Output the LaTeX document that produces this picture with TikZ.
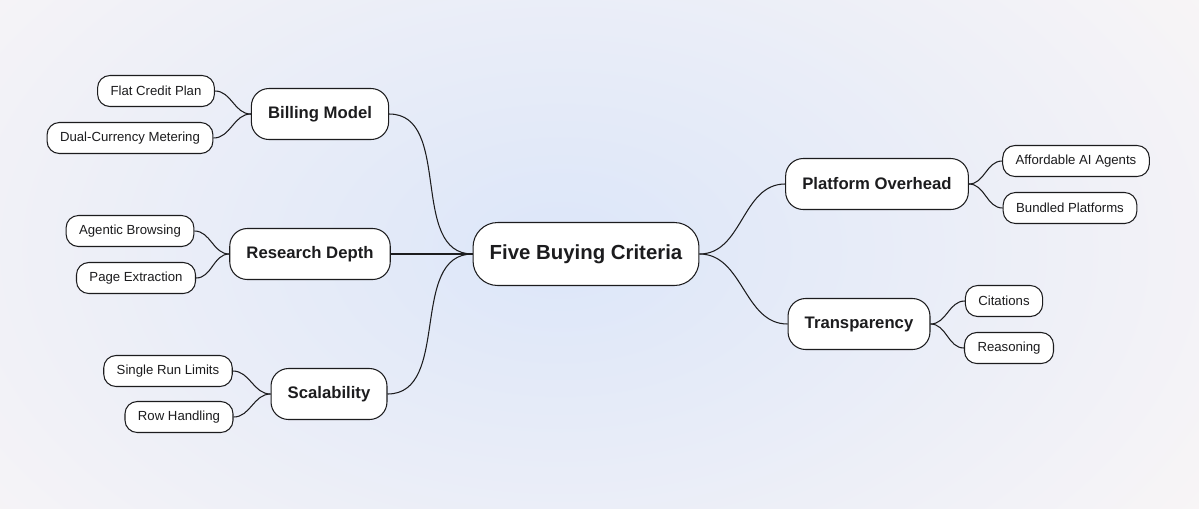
\documentclass[tikz,border=0pt]{standalone}
\usepackage{fontspec}
\setmainfont{Liberation Sans}
\usetikzlibrary{positioning}
\definecolor{ink}{HTML}{1C1C1E}
\definecolor{paper}{HTML}{FAF6F6}
\definecolor{haze}{HTML}{DCE6F9}

\begin{document}
\begin{tikzpicture}[x=0.02cm, y=-0.02cm,
    every node/.style={font=\fontsize{7.5}{9}\selectfont, text=ink},
    pill/.style={draw=ink, line width=0.6pt, fill=white, rounded corners=7pt, minimum height=0.62cm, inner xsep=7.4pt},
    branch/.style={pill, font=\fontsize{9.5}{11.5}\selectfont\bfseries, minimum height=1.02cm, rounded corners=10pt, inner xsep=9.5pt},
    hub/.style={pill, font=\fontsize{11.6}{14}\selectfont\bfseries, minimum height=1.26cm, rounded corners=14pt, inner xsep=9.5pt},
    link/.style={draw=ink, line width=0.6pt}]
  % backdrop
  \useasboundingbox (0,0) rectangle (1199,508);
  \fill[paper] (0,0) rectangle (1199,508);
  \begin{scope}
    \clip (0,0) rectangle (1199,508);
    \shade[inner color=haze, outer color=paper] (560,250) ellipse (820 and 520);
  \end{scope}

  % hub and branches
  \node[hub] (hub) at (586,254) {Five Buying Criteria};
  \node[branch] (bill) at (320,114) {Billing Model};
  \node[branch] (depth) at (310,254) {Research Depth};
  \node[branch] (scale) at (329,394) {Scalability};
  \node[branch] (plat) at (877,184) {Platform Overhead};
  \node[branch] (trans) at (859,324) {Transparency};

  % leaves
  \node[pill] (flat) at (156,91) {Flat Credit Plan};
  \node[pill] (dual) at (130,138) {Dual-Currency Metering};
  \node[pill] (agent) at (130,231) {Agentic Browsing};
  \node[pill] (page) at (136,278) {Page Extraction};
  \node[pill] (single) at (168,371) {Single Run Limits};
  \node[pill] (row) at (179,417) {Row Handling};
  \node[pill] (afford) at (1076,161) {Affordable AI Agents};
  \node[pill] (bundle) at (1070,208) {Bundled Platforms};
  \node[pill] (cite) at (1004,301) {Citations};
  \node[pill] (reason) at (1009,348) {Reasoning};

  % connectors
  \foreach \b in {bill,depth,scale}
    \draw[link] (hub.west) to[out=180, in=0] (\b.east);
  \foreach \b in {plat,trans}
    \draw[link] (hub.east) to[out=0, in=180] (\b.west);
  \draw[link] (bill.west) to[out=180, in=0] (flat.east);
  \draw[link] (bill.west) to[out=180, in=0] (dual.east);
  \draw[link] (depth.west) to[out=180, in=0] (agent.east);
  \draw[link] (depth.west) to[out=180, in=0] (page.east);
  \draw[link] (scale.west) to[out=180, in=0] (single.east);
  \draw[link] (scale.west) to[out=180, in=0] (row.east);
  \draw[link] (plat.east) to[out=0, in=180] (afford.west);
  \draw[link] (plat.east) to[out=0, in=180] (bundle.west);
  \draw[link] (trans.east) to[out=0, in=180] (cite.west);
  \draw[link] (trans.east) to[out=0, in=180] (reason.west);
\end{tikzpicture}
\end{document}
